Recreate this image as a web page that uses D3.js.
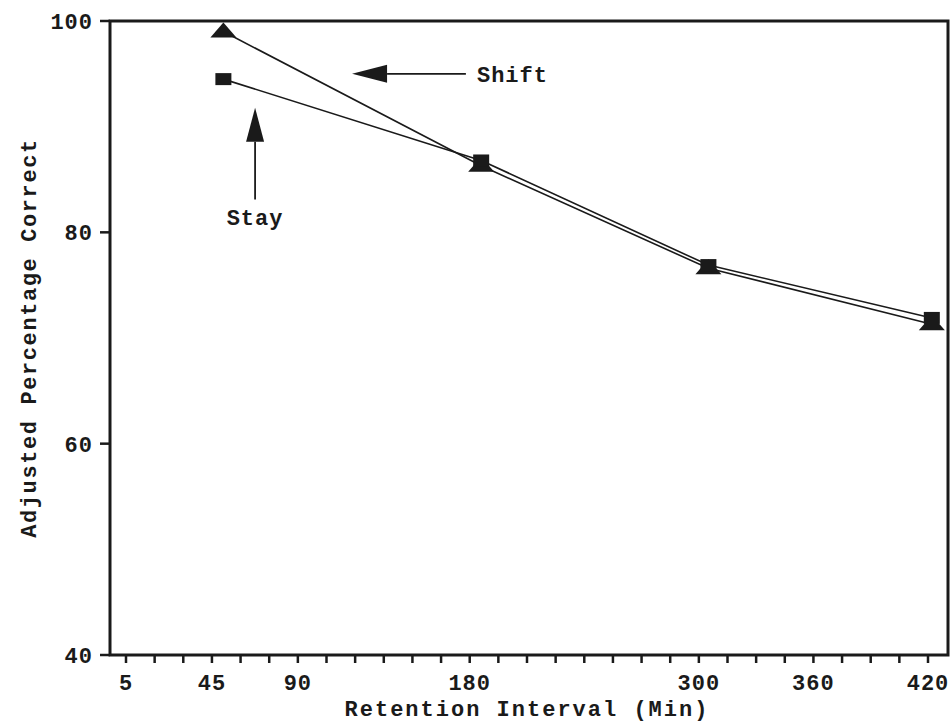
<!DOCTYPE html>
<html lang="en">
  <head>
    <meta charset="utf-8">
    <style>
      body { margin: 0; background: #fff; }
      text {
        font-family: "Courier New", "Liberation Mono", monospace;
        font-weight: bold;
        fill: #1a1a1a;
      }
      .frame { fill: none; stroke: #1a1a1a; stroke-width: 3; }
      .tick { stroke: #1a1a1a; stroke-width: 2.5; }
      .series { fill: none; stroke: #1a1a1a; stroke-width: 1.6; }
      .marker { fill: #1a1a1a; }
    </style>
  </head>
  <body>
  </body>
  <script src="https://d3js.org/d3.v7.min.js"></script>

  <script>
  // retention intervals (min) as plotted
  var intervals = [51, 186, 305, 422];
  var shiftValues = [99.0, 86.3, 76.6, 71.3];
  var stayValues = [94.5, 86.8, 76.9, 71.9];

  var xTickValues = [0, 45, 90, 180, 300, 360, 420];
  var xTickLabels = ["5", "45", "90", "180", "300", "360", "420"];
  var yTickValues = [40, 60, 80, 100];

  var width = 951;
  var height = 723;

  var svg = d3.select("body")
    .append("svg")
    .attr("width", width)
    .attr("height", height);

  var x = d3.scaleLinear().domain([0, 420]).range([126, 928]);
  var y = d3.scaleLinear().domain([40, 100]).range([655, 21]);

  // frame
  svg.append("rect")
    .attr("class", "frame")
    .attr("x", 110)
    .attr("y", y(100))
    .attr("width", 948 - 110)
    .attr("height", y(40) - y(100));

  // y ticks
  svg.selectAll(".ytick")
    .data(yTickValues)
    .enter().append("line")
    .attr("class", "tick")
    .attr("x1", 100).attr("x2", 110)
    .attr("y1", function(d) { return y(d); })
    .attr("y2", function(d) { return y(d); });

  svg.selectAll(".ylabel")
    .data(yTickValues)
    .enter().append("text")
    .attr("x", 93)
    .attr("y", function(d) { return y(d); })
    .attr("dy", "0.36em")
    .attr("text-anchor", "end")
    .style("font-size", "22px")
    .style("letter-spacing", "1px")
    .text(function(d) { return d; });

  // x minor ticks every 15 min
  svg.selectAll(".xtick")
    .data(d3.range(0, 421, 15))
    .enter().append("line")
    .attr("class", "tick")
    .attr("x1", function(d) { return x(d); })
    .attr("x2", function(d) { return x(d); })
    .attr("y1", 656).attr("y2", 663);

  svg.selectAll(".xlabel")
    .data(xTickValues)
    .enter().append("text")
    .attr("x", function(d) { return x(d); })
    .attr("y", 690)
    .attr("text-anchor", "middle")
    .style("font-size", "22px")
    .style("letter-spacing", "1px")
    .text(function(d, i) { return xTickLabels[i]; });

  // axis titles
  svg.append("text")
    .attr("x", 527)
    .attr("y", 716)
    .attr("text-anchor", "middle")
    .style("font-size", "22px")
    .style("letter-spacing", "2px")
    .text("Retention Interval (Min)");

  svg.append("text")
    .attr("transform", "translate(36,338) rotate(-90)")
    .attr("text-anchor", "middle")
    .style("font-size", "22px")
    .style("letter-spacing", "1.6px")
    .text("Adjusted Percentage Correct");

  // series lines
  var line = d3.line()
    .x(function(d) { return x(d[0]); })
    .y(function(d) { return y(d[1]); });

  var shiftPts = d3.zip(intervals, shiftValues);
  var stayPts = d3.zip(intervals, stayValues);

  svg.append("path").attr("class", "series").attr("d", line(shiftPts));
  svg.append("path").attr("class", "series").attr("d", line(stayPts));

  // markers
  svg.selectAll(".tri")
    .data(shiftPts)
    .enter().append("path")
    .attr("class", "marker")
    .attr("d", function(d) {
      var cx = x(d[0]), cy = y(d[1]);
      return "M" + cx + "," + (cy - 9) + "L" + (cx + 13) + "," + (cy + 6) + "L" + (cx - 13) + "," + (cy + 6) + "Z";
    });

  svg.selectAll(".sq")
    .data(stayPts)
    .enter().append("rect")
    .attr("class", "marker")
    .attr("x", function(d) { return x(d[0]) - 8; })
    .attr("y", function(d) { return y(d[1]) - 6; })
    .attr("width", 16)
    .attr("height", 12);

  // annotations (data units)
  function arrow(x1, y1, x2, y2, headLen, headHalf) {
    var ax = x(x1), ay = y(y1), bx = x(x2), by = y(y2);
    var dx = bx - ax, dy = by - ay, len = Math.sqrt(dx * dx + dy * dy);
    var ux = dx / len, uy = dy / len;
    var hx = bx - ux * headLen, hy = by - uy * headLen;
    svg.append("line")
      .attr("x1", ax).attr("y1", ay).attr("x2", hx).attr("y2", hy)
      .attr("stroke", "#1a1a1a").attr("stroke-width", 1.8);
    svg.append("path")
      .attr("class", "marker")
      .attr("d", "M" + bx + "," + by +
        "L" + (hx - uy * headHalf) + "," + (hy + ux * headHalf) +
        "L" + (hx + uy * headHalf) + "," + (hy - ux * headHalf) + "Z");
  }

  arrow(178, 95.0, 118.4, 95.0, 35, 9);
  svg.append("text")
    .attr("x", x(183.8))
    .attr("y", y(94.2))
    .style("font-size", "22px")
    .style("letter-spacing", "1px")
    .text("Shift");

  arrow(67.6, 83.1, 67.6, 91.8, 34, 9);
  svg.append("text")
    .attr("x", x(67.6))
    .attr("y", y(80.7))
    .attr("text-anchor", "middle")
    .style("font-size", "22px")
    .style("letter-spacing", "1px")
    .text("Stay");
  </script>
</html>
